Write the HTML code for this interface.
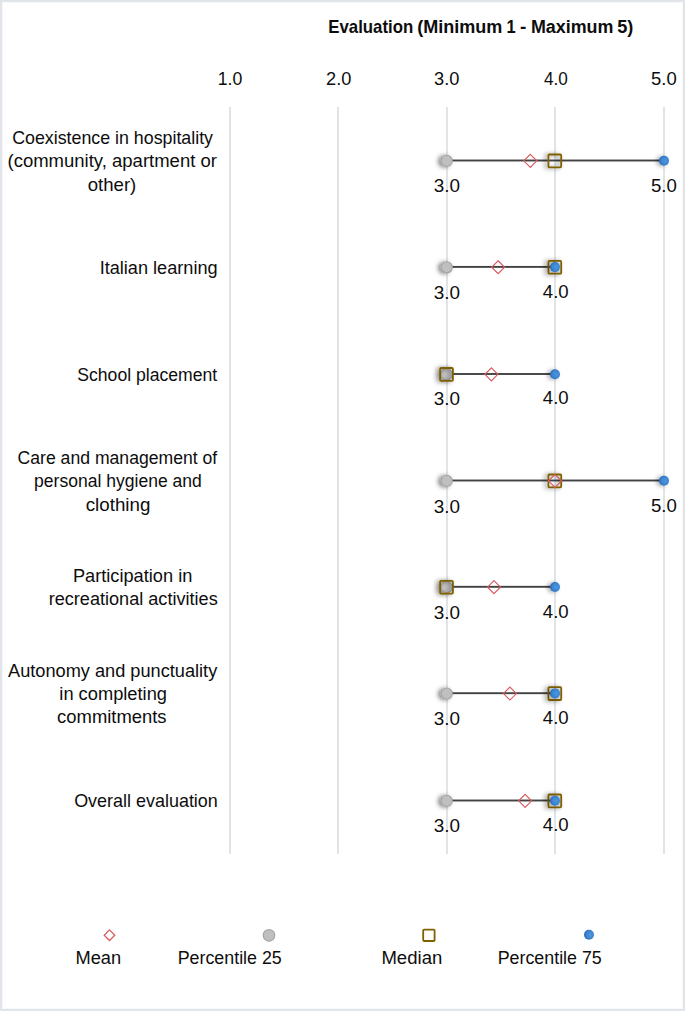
<!DOCTYPE html>
<html><head><meta charset="utf-8"><style>
html,body{margin:0;padding:0;background:#fff;}
svg{display:block;}
text{font-family:"Liberation Sans",sans-serif;font-size:18.7px;fill:#0d0d0d;}
</style></head><body>
<svg width="685" height="1011" viewBox="0 0 685 1011">
<defs>
<radialGradient id="bl" cx="0.62" cy="0.5" r="0.62"><stop offset="0" stop-color="#4c97df"/><stop offset="0.65" stop-color="#3a83cf"/><stop offset="1" stop-color="#2866b1"/></radialGradient>
<filter id="sh" x="-80%" y="-80%" width="260%" height="260%"><feDropShadow dx="-2.5" dy="0.5" stdDeviation="2" flood-color="#000" flood-opacity="0.5"/></filter>
<filter id="sh2" x="-80%" y="-80%" width="260%" height="260%"><feDropShadow dx="-2.5" dy="0.5" stdDeviation="2" flood-color="#000" flood-opacity="0.35"/></filter>
</defs>
<rect x="0" y="0" width="685" height="1011" fill="#fff"/>
<rect x="1" y="1" width="683" height="1009" fill="none" stroke="#e1e5ea" stroke-width="2"/>
<rect x="2.5" y="2.5" width="680" height="1006" fill="none" stroke="#f7f8fa" stroke-width="1"/>
<rect x="229" y="107" width="2" height="747" fill="#e0e4e9"/>
<rect x="337" y="107" width="2" height="747" fill="#e0e4e9"/>
<rect x="446" y="107" width="2" height="747" fill="#e0e4e9"/>
<rect x="554" y="107" width="2" height="747" fill="#e0e4e9"/>
<rect x="663" y="107" width="2" height="747" fill="#e0e4e9"/>
<rect x="446.70" y="159.55" width="217.30" height="1.9" fill="#424242"/>
<circle cx="446.70" cy="160.90" r="5.6" fill="#bfbfbf" stroke="#a3a3a3" stroke-width="1.1" filter="url(#sh)"/>
<rect x="548.40" y="154.50" width="12.8" height="12.8" rx="1" fill="none" stroke="#7f6000" stroke-width="1.8" filter="url(#sh)"/>
<path d="M530.33 154.35 L536.83 160.85 L530.33 167.35 L523.83 160.85 Z" fill="none" stroke="#d95a5f" stroke-width="1.15"/>
<circle cx="664.00" cy="160.70" r="5" fill="url(#bl)" filter="url(#sh2)"/>
<rect x="446.70" y="265.95" width="108.30" height="1.9" fill="#424242"/>
<circle cx="446.70" cy="267.30" r="5.6" fill="#bfbfbf" stroke="#a3a3a3" stroke-width="1.1" filter="url(#sh)"/>
<rect x="548.40" y="260.90" width="12.8" height="12.8" rx="1" fill="none" stroke="#7f6000" stroke-width="1.8" filter="url(#sh)"/>
<path d="M498.10 260.75 L504.60 267.25 L498.10 273.75 L491.60 267.25 Z" fill="none" stroke="#d95a5f" stroke-width="1.15"/>
<circle cx="555.00" cy="267.10" r="5" fill="url(#bl)" filter="url(#sh2)"/>
<rect x="446.70" y="373.05" width="108.30" height="1.9" fill="#424242"/>
<circle cx="446.70" cy="374.40" r="5.6" fill="#bfbfbf" stroke="#a3a3a3" stroke-width="1.1" filter="url(#sh)"/>
<rect x="440.10" y="368.00" width="12.8" height="12.8" rx="1" fill="none" stroke="#7f6000" stroke-width="1.8" filter="url(#sh)"/>
<path d="M491.38 367.85 L497.88 374.35 L491.38 380.85 L484.88 374.35 Z" fill="none" stroke="#d95a5f" stroke-width="1.15"/>
<circle cx="555.00" cy="374.20" r="5" fill="url(#bl)" filter="url(#sh2)"/>
<rect x="446.70" y="479.55" width="217.30" height="1.9" fill="#424242"/>
<circle cx="446.70" cy="480.90" r="5.6" fill="#bfbfbf" stroke="#a3a3a3" stroke-width="1.1" filter="url(#sh)"/>
<rect x="548.40" y="474.50" width="12.8" height="12.8" rx="1" fill="none" stroke="#7f6000" stroke-width="1.8" filter="url(#sh)"/>
<path d="M554.96 474.35 L561.46 480.85 L554.96 487.35 L548.46 480.85 Z" fill="none" stroke="#d95a5f" stroke-width="1.15"/>
<circle cx="664.00" cy="480.70" r="5" fill="url(#bl)" filter="url(#sh2)"/>
<rect x="446.70" y="585.85" width="108.30" height="1.9" fill="#424242"/>
<circle cx="446.70" cy="587.20" r="5.6" fill="#bfbfbf" stroke="#a3a3a3" stroke-width="1.1" filter="url(#sh)"/>
<rect x="440.10" y="580.80" width="12.8" height="12.8" rx="1" fill="none" stroke="#7f6000" stroke-width="1.8" filter="url(#sh)"/>
<path d="M493.98 580.65 L500.48 587.15 L493.98 593.65 L487.48 587.15 Z" fill="none" stroke="#d95a5f" stroke-width="1.15"/>
<circle cx="555.00" cy="587.00" r="5" fill="url(#bl)" filter="url(#sh2)"/>
<rect x="446.70" y="692.25" width="108.30" height="1.9" fill="#424242"/>
<circle cx="446.70" cy="693.60" r="5.6" fill="#bfbfbf" stroke="#a3a3a3" stroke-width="1.1" filter="url(#sh)"/>
<rect x="548.40" y="687.20" width="12.8" height="12.8" rx="1" fill="none" stroke="#7f6000" stroke-width="1.8" filter="url(#sh)"/>
<path d="M509.93 687.05 L516.43 693.55 L509.93 700.05 L503.43 693.55 Z" fill="none" stroke="#d95a5f" stroke-width="1.15"/>
<circle cx="555.00" cy="693.40" r="5" fill="url(#bl)" filter="url(#sh2)"/>
<rect x="446.70" y="799.55" width="108.30" height="1.9" fill="#424242"/>
<circle cx="446.70" cy="800.90" r="5.6" fill="#bfbfbf" stroke="#a3a3a3" stroke-width="1.1" filter="url(#sh)"/>
<rect x="548.40" y="794.50" width="12.8" height="12.8" rx="1" fill="none" stroke="#7f6000" stroke-width="1.8" filter="url(#sh)"/>
<path d="M525.12 794.35 L531.62 800.85 L525.12 807.35 L518.62 800.85 Z" fill="none" stroke="#d95a5f" stroke-width="1.15"/>
<circle cx="555.00" cy="800.70" r="5" fill="url(#bl)" filter="url(#sh2)"/>
<path d="M109.5 929.9 L114.8 935.2 L109.5 940.5 L104.2 935.2 Z" fill="none" stroke="#d95a5f" stroke-width="1.25"/>
<circle cx="269" cy="935.3" r="5.8" fill="#bfbfbf" stroke="#a3a3a3" stroke-width="1.1"/>
<rect x="423.2" y="929.6" width="11.4" height="11.4" rx="1" fill="none" stroke="#7f6000" stroke-width="1.8"/>
<circle cx="589" cy="934.8" r="5" fill="url(#bl)"/>
<text transform="translate(328.30 32.90) scale(0.8978 1)" font-weight="bold">Evaluation</text>
<text transform="translate(417.23 32.90) scale(0.9651 1)" font-weight="bold">(Minimum</text>
<text transform="translate(506.52 32.90) scale(0.8778 1)" font-weight="bold">1</text>
<text transform="translate(519.88 32.90) scale(1.0200 1)" font-weight="bold">-</text>
<text transform="translate(530.94 32.90) scale(0.9571 1)" font-weight="bold">Maximum</text>
<text transform="translate(617.13 32.90) scale(0.9733 1)" font-weight="bold">5)</text>
<text transform="translate(217.75 84.50) scale(0.9458 1)">1.0</text>
<text transform="translate(326.02 84.50) scale(0.9750 1)">2.0</text>
<text transform="translate(434.02 84.50) scale(0.9750 1)">3.0</text>
<text transform="translate(543.90 84.50) scale(0.9200 1)">4.0</text>
<text transform="translate(651.01 84.50) scale(0.9875 1)">5.0</text>
<text transform="translate(12.15 143.60) scale(0.9524 1)">Coexistence in hospitality</text>
<text transform="translate(7.51 166.60) scale(0.9900 1)">(community, apartment or</text>
<text transform="translate(87.70 190.50) scale(0.9957 1)">other)</text>
<text transform="translate(99.66 274.30) scale(0.9706 1)">Italian learning</text>
<text transform="translate(77.26 380.80) scale(0.9422 1)">School placement</text>
<text transform="translate(17.56 463.60) scale(0.9422 1)">Care and management of</text>
<text transform="translate(34.06 487.00) scale(0.9384 1)">personal hygiene and</text>
<text transform="translate(85.70 510.80) scale(1.0032 1)">clothing</text>
<text transform="translate(72.90 582.00) scale(0.9738 1)">Participation in</text>
<text transform="translate(48.63 605.20) scale(0.9688 1)">recreational activities</text>
<text transform="translate(8.00 676.80) scale(0.9730 1)">Autonomy and punctuality</text>
<text transform="translate(59.32 699.80) scale(0.9778 1)">in completing</text>
<text transform="translate(57.11 723.20) scale(0.9855 1)">commitments</text>
<text transform="translate(74.14 806.70) scale(0.9601 1)">Overall evaluation</text>
<text transform="translate(433.79 192.40) scale(1.0125 1)">3.0</text>
<text transform="translate(651.00 191.55) scale(0.9958 1)">5.0</text>
<text transform="translate(433.79 298.70) scale(1.0125 1)">3.0</text>
<text transform="translate(542.80 297.85) scale(0.9960 1)">4.0</text>
<text transform="translate(433.79 405.10) scale(1.0125 1)">3.0</text>
<text transform="translate(542.80 404.25) scale(0.9960 1)">4.0</text>
<text transform="translate(433.79 512.55) scale(1.0125 1)">3.0</text>
<text transform="translate(651.00 511.70) scale(0.9958 1)">5.0</text>
<text transform="translate(433.79 618.70) scale(1.0125 1)">3.0</text>
<text transform="translate(542.80 617.85) scale(0.9960 1)">4.0</text>
<text transform="translate(433.79 725.30) scale(1.0125 1)">3.0</text>
<text transform="translate(542.80 724.45) scale(0.9960 1)">4.0</text>
<text transform="translate(433.79 831.55) scale(1.0125 1)">3.0</text>
<text transform="translate(542.80 830.70) scale(0.9960 1)">4.0</text>
<text transform="translate(75.45 963.50) scale(0.9773 1)">Mean</text>
<text transform="translate(177.69 963.50) scale(0.9538 1)">Percentile 25</text>
<text transform="translate(381.41 963.50) scale(0.9931 1)">Median</text>
<text transform="translate(497.69 963.50) scale(0.9538 1)">Percentile 75</text>
</svg>
</body></html>
